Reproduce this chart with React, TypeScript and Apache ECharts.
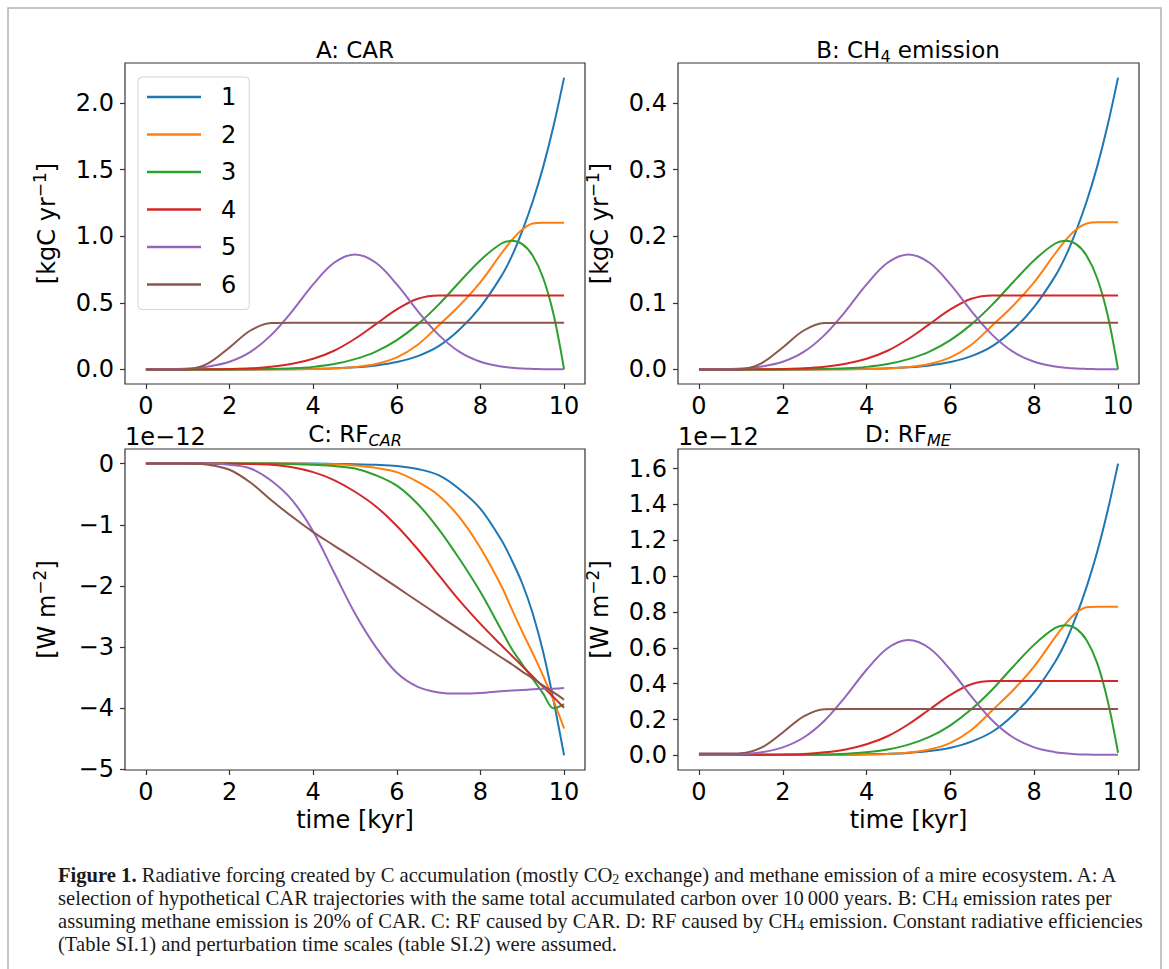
import React, { useEffect, useRef } from "react";
import * as echarts from "echarts";

// ---------------- data ----------------
const TIME = [0, 0.5, 1, 1.5, 2, 2.5, 3, 3.5, 4, 4.5, 5, 5.5, 6, 6.5, 7, 7.5, 8, 8.5, 8.75, 9, 9.25, 9.5, 9.75, 10];
const NAMES = ["1", "2", "3", "4", "5", "6"];

// A: CAR [kgC yr-1]
const CAR_1 = [0, 0, 0, 0, 0, 0, 0.001, 0.002, 0.004, 0.008, 0.016, 0.03, 0.055, 0.1, 0.175, 0.3, 0.47, 0.7, 0.85, 1.04, 1.26, 1.52, 1.83, 2.19];
const CAR_2 = [0, 0, 0, 0, 0, 0, 0, 0.001, 0.003, 0.007, 0.018, 0.04, 0.09, 0.185, 0.33, 0.48, 0.655, 0.87, 0.97, 1.05, 1.095, 1.1, 1.1, 1.1];
const CAR_3 = [0, 0, 0, 0, 0, 0.001, 0.003, 0.008, 0.019, 0.04, 0.077, 0.134, 0.22, 0.338, 0.486, 0.656, 0.82, 0.945, 0.965, 0.94, 0.853, 0.686, 0.41, 0];
const CAR_4 = [0, 0, 0, 0.001, 0.003, 0.008, 0.02, 0.042, 0.08, 0.14, 0.23, 0.34, 0.45, 0.53, 0.555, 0.555, 0.555, 0.555, 0.555, 0.555, 0.555, 0.555, 0.555, 0.555];
const CAR_5 = [0.0005, 0.002, 0.007, 0.022, 0.057, 0.131, 0.259, 0.438, 0.638, 0.8, 0.8625, 0.8, 0.638, 0.438, 0.259, 0.131, 0.057, 0.022, 0.013, 0.007, 0.004, 0.002, 0.001, 0.0005];
const CAR_6 = [0, 0, 0.002, 0.048, 0.165, 0.292, 0.348, 0.35, 0.35, 0.35, 0.35, 0.35, 0.35, 0.35, 0.35, 0.35, 0.35, 0.35, 0.35, 0.35, 0.35, 0.35, 0.35, 0.35];

// B: CH4 emission [kgC yr-1]
const ME_1 = [0, 0, 0, 0, 0, 0, 0.0002, 0.0004, 0.0008, 0.0016, 0.0032, 0.006, 0.011, 0.02, 0.035, 0.06, 0.094, 0.14, 0.17, 0.208, 0.252, 0.304, 0.366, 0.438];
const ME_2 = [0, 0, 0, 0, 0, 0, 0, 0.0002, 0.0006, 0.0014, 0.0036, 0.008, 0.018, 0.037, 0.066, 0.096, 0.131, 0.174, 0.194, 0.21, 0.219, 0.221, 0.221, 0.221];
const ME_3 = [0, 0, 0, 0, 0, 0.0002, 0.0006, 0.0016, 0.0038, 0.008, 0.0154, 0.0268, 0.044, 0.0676, 0.0972, 0.1312, 0.164, 0.189, 0.193, 0.188, 0.1706, 0.1372, 0.082, 0];
const ME_4 = [0, 0, 0, 0.0002, 0.0006, 0.0016, 0.004, 0.0084, 0.016, 0.028, 0.046, 0.068, 0.09, 0.106, 0.111, 0.111, 0.111, 0.111, 0.111, 0.111, 0.111, 0.111, 0.111, 0.111];
const ME_5 = [0.0001, 0.0004, 0.0014, 0.0044, 0.0114, 0.0262, 0.0518, 0.0876, 0.1276, 0.16, 0.1725, 0.16, 0.1276, 0.0876, 0.0518, 0.0262, 0.0114, 0.0044, 0.0026, 0.0014, 0.0008, 0.0004, 0.0002, 0.0001];
const ME_6 = [0, 0, 0.0004, 0.0096, 0.033, 0.0584, 0.0696, 0.07, 0.07, 0.07, 0.07, 0.07, 0.07, 0.07, 0.07, 0.07, 0.07, 0.07, 0.07, 0.07, 0.07, 0.07, 0.07, 0.07];

// C: RF_CAR [1e-12 W m-2]
const RFC_1 = [0, 0, 0, 0, 0, 0, 0, 0, 0, -0.005, -0.01, -0.02, -0.04, -0.09, -0.19, -0.42, -0.74, -1.25, -1.58, -1.96, -2.45, -3.08, -3.88, -4.77];
const RFC_2 = [0, 0, 0, 0, 0, 0, 0, 0, -0.005, -0.01, -0.03, -0.07, -0.14, -0.3, -0.52, -0.88, -1.38, -2.0, -2.38, -2.75, -3.1, -3.47, -3.88, -4.33];
const RFC_3 = [0, 0, 0, 0, 0, 0, 0, -0.005, -0.02, -0.04, -0.08, -0.19, -0.36, -0.66, -1.07, -1.56, -2.1, -2.72, -3.03, -3.28, -3.52, -3.76, -4.0, -3.93];
const RFC_4 = [0, 0, 0, 0, 0, -0.005, -0.02, -0.06, -0.14, -0.27, -0.46, -0.7, -1.02, -1.4, -1.82, -2.24, -2.62, -2.97, -3.14, -3.31, -3.48, -3.65, -3.82, -3.99];
const RFC_5 = [0, 0, 0, 0, -0.02, -0.08, -0.28, -0.6, -1.11, -1.78, -2.45, -3.0, -3.42, -3.65, -3.74, -3.76, -3.75, -3.72, -3.71, -3.7, -3.69, -3.68, -3.68, -3.67];
const RFC_6 = [0, 0, 0, -0.02, -0.1, -0.31, -0.6, -0.87, -1.12, -1.34, -1.56, -1.79, -2.02, -2.25, -2.48, -2.71, -2.94, -3.17, -3.28, -3.4, -3.51, -3.63, -3.74, -3.86];

// D: RF_ME [1e-12 W m-2]
const RFM_1 = [0.003, 0.003, 0.003, 0.003, 0.003, 0.003, 0.004, 0.004, 0.006, 0.009, 0.014, 0.024, 0.043, 0.077, 0.132, 0.226, 0.352, 0.523, 0.634, 0.776, 0.94, 1.133, 1.363, 1.628];
const RFM_2 = [0.003, 0.003, 0.003, 0.003, 0.003, 0.003, 0.003, 0.004, 0.005, 0.008, 0.016, 0.033, 0.07, 0.142, 0.252, 0.365, 0.497, 0.66, 0.735, 0.795, 0.827, 0.83, 0.83, 0.83];
const RFM_3 = [0.003, 0.003, 0.003, 0.003, 0.003, 0.004, 0.005, 0.009, 0.017, 0.033, 0.06, 0.103, 0.168, 0.257, 0.368, 0.496, 0.618, 0.711, 0.726, 0.707, 0.642, 0.516, 0.308, 0.015];
const RFM_4 = [0.003, 0.003, 0.003, 0.004, 0.005, 0.008, 0.017, 0.033, 0.062, 0.107, 0.174, 0.256, 0.338, 0.397, 0.415, 0.415, 0.415, 0.415, 0.415, 0.415, 0.415, 0.415, 0.415, 0.415];
const RFM_5 = [0.003, 0.003, 0.007, 0.018, 0.045, 0.1, 0.195, 0.329, 0.478, 0.598, 0.644, 0.598, 0.478, 0.329, 0.195, 0.1, 0.045, 0.018, 0.012, 0.007, 0.005, 0.004, 0.004, 0.004];
const RFM_6 = [0.01, 0.01, 0.012, 0.045, 0.128, 0.218, 0.258, 0.259, 0.259, 0.259, 0.259, 0.259, 0.259, 0.259, 0.259, 0.259, 0.259, 0.259, 0.259, 0.259, 0.259, 0.259, 0.259, 0.259];

// tick labels
const X_TICKS = [0, 2, 4, 6, 8, 10];
const CAR_TICKS = [0, 0.5, 1, 1.5, 2];
const ME_TICKS = [0, 0.1, 0.2, 0.3, 0.4];
const RFC_TICKS = [0, -1, -2, -3, -4, -5];
const RFM_TICKS = [0, 0.2, 0.4, 0.6, 0.8, 1.0, 1.2, 1.4, 1.6];

// ---------------- styles ----------------
const COLORS = ["#1f77b4", "#ff7f0e", "#2ca02c", "#d62728", "#9467bd", "#8c564b"];
const FONT = "DejaVu Sans";
const SERIF = "Liberation Serif";
const INK = "#000";
const SPINE = "#333";

const dec1 = (v: number) => v.toFixed(1);
const minusInt = (v: number) => (Math.round(v) === 0 ? "0" : "\u2212" + Math.abs(Math.round(v)));

const nameRich = {
  n: { fontFamily: FONT, fontSize: 24, lineHeight: 32, color: INK },
  sup: { fontFamily: FONT, fontSize: 17, lineHeight: 18, verticalAlign: "top", color: INK },
};

const PANELS = [
  {
    grid: { left: 125, top: 63, width: 460, height: 321 },
    series: [CAR_1, CAR_2, CAR_3, CAR_4, CAR_5, CAR_6],
    ticks: CAR_TICKS, min: -0.1095, max: 2.2995, fmt: dec1,
    yName: "{n|[kgC yr}{sup|\u22121}{n|]}", xName: "",
  },
  {
    grid: { left: 678, top: 63, width: 461, height: 321 },
    series: [ME_1, ME_2, ME_3, ME_4, ME_5, ME_6],
    ticks: ME_TICKS, min: -0.0219, max: 0.4599, fmt: dec1,
    yName: "{n|[kgC yr}{sup|\u22121}{n|]}", xName: "",
  },
  {
    grid: { left: 125, top: 449, width: 460, height: 321 },
    series: [RFC_1, RFC_2, RFC_3, RFC_4, RFC_5, RFC_6],
    ticks: RFC_TICKS, min: -5.0085, max: 0.2385, fmt: minusInt,
    yName: "{n|[W m}{sup|\u22122}{n|]}", xName: "time [kyr]",
  },
  {
    grid: { left: 678, top: 449, width: 461, height: 321 },
    series: [RFM_1, RFM_2, RFM_3, RFM_4, RFM_5, RFM_6],
    ticks: RFM_TICKS, min: -0.0814, max: 1.7094, fmt: dec1,
    yName: "{n|[W m}{sup|\u22122}{n|]}", xName: "time [kyr]",
  },
];

const titleRich = {
  n: { fontFamily: FONT, fontSize: 23, lineHeight: 28, fill: INK },
  sub: { fontFamily: FONT, fontSize: 16, lineHeight: 16, verticalAlign: "bottom", fill: INK },
  isub: { fontFamily: FONT, fontSize: 16, lineHeight: 16, verticalAlign: "bottom", fontStyle: "italic", fill: INK },
};

const TITLES = [
  { x: 355, y: 50, text: "{n|A: CAR}" },
  { x: 908, y: 50, text: "{n|B: CH}{sub|4}{n| emission}" },
  { x: 355, y: 434, text: "{n|C: RF}{isub|CAR}" },
  { x: 908, y: 434, text: "{n|D: RF}{isub|ME}" },
];

const CAPTION = [
  "{b|Figure 1.}{r| Radiative forcing created by C accumulation (mostly CO}{s|2}{r| exchange) and methane emission of a mire ecosystem. A: A}",
  "{r|selection of hypothetical CAR trajectories with the same total accumulated carbon over 10\u2009000 years. B: CH}{s|4}{r| emission rates per}",
  "{r|assuming methane emission is 20% of CAR. C: RF caused by CAR. D: RF caused by CH}{s|4}{r| emission. Constant radiative efficiencies}",
  "{r|(Table SI.1) and perturbation time scales (table SI.2) were assumed.}",
];
const CAP_COLOR = "#1a1a1a";
const capRich = {
  r: { fontFamily: SERIF, fontSize: 20.6, lineHeight: 23, fill: CAP_COLOR },
  b: { fontFamily: SERIF, fontSize: 20.6, lineHeight: 23, fontWeight: "bold", fill: CAP_COLOR },
  s: { fontFamily: SERIF, fontSize: 14, lineHeight: 14, verticalAlign: "bottom", fill: CAP_COLOR },
};

function buildOption() {
  const grid = PANELS.map((p) => ({
    ...p.grid,
    show: true,
    borderColor: SPINE,
    borderWidth: 1.2,
    backgroundColor: "transparent",
    containLabel: false,
  }));

  const xAxis = PANELS.map((p, i) => ({
    type: "value",
    gridIndex: i,
    min: -0.5,
    max: 10.5,
    axisLine: { show: false, onZero: false },
    axisTick: { show: true, length: 5, lineStyle: { color: SPINE, width: 1.2 }, customValues: X_TICKS },
    axisLabel: {
      customValues: X_TICKS,
      fontSize: 24,
      fontFamily: FONT,
      color: INK,
      margin: 10,
      formatter: (v: number) => String(v),
    },
    splitLine: { show: false },
    name: p.xName,
    nameLocation: "middle",
    nameGap: 38,
    nameTextStyle: { fontSize: 24, fontFamily: FONT, color: INK },
  }));

  const yAxis = PANELS.map((p, i) => ({
    type: "value",
    gridIndex: i,
    min: p.min,
    max: p.max,
    axisLine: { show: false, onZero: false },
    axisTick: { show: true, length: 5, lineStyle: { color: SPINE, width: 1.2 }, customValues: p.ticks },
    axisLabel: {
      customValues: p.ticks,
      fontSize: 24,
      fontFamily: FONT,
      color: INK,
      margin: 11,
      formatter: p.fmt,
    },
    splitLine: { show: false },
    name: p.yName,
    nameLocation: "middle",
    nameGap: 62,
    nameRotate: 90,
    nameTextStyle: { rich: nameRich, fontSize: 24, fontFamily: FONT, color: INK },
  }));

  const series: any[] = [];
  PANELS.forEach((p, i) => {
    p.series.forEach((arr, k) => {
      series.push({
        type: "line",
        name: NAMES[k],
        xAxisIndex: i,
        yAxisIndex: i,
        data: TIME.map((t, j) => [t, arr[j]]),
        showSymbol: false,
        symbol: "none",
        smooth: 0.35,
        color: COLORS[k],
        itemStyle: { color: COLORS[k] },
        lineStyle: { color: COLORS[k], width: 2 },
        emphasis: { disabled: true },
        silent: true,
        z: 2 + k,
      });
    });
  });

  const graphic: any[] = [
    {
      type: "rect",
      shape: { x: 8, y: 8, width: 1153, height: 980 },
      style: { fill: "none", stroke: "#b3b3b3", lineWidth: 1.5 },
      silent: true,
    },
    ...TITLES.map((t) => ({
      type: "text",
      x: t.x,
      y: t.y,
      style: { text: t.text, rich: titleRich, align: "center", verticalAlign: "middle" },
      silent: true,
    })),
    ...[125, 678].map((x) => ({
      type: "text",
      x,
      y: 437,
      style: {
        text: "1e\u221212",
        fontFamily: FONT,
        fontSize: 24,
        fill: INK,
        align: "left",
        verticalAlign: "middle",
      },
      silent: true,
    })),
    ...CAPTION.map((line, i) => ({
      type: "text",
      x: 58,
      y: 875 + i * 23,
      style: { text: line, rich: capRich, align: "left", verticalAlign: "middle" },
      silent: true,
    })),
  ];

  return {
    animation: false,
    backgroundColor: "#ffffff",
    grid,
    xAxis,
    yAxis,
    series,
    legend: {
      data: NAMES,
      orient: "vertical",
      left: 138,
      top: 77,
      padding: [5, 13, 10, 9],
      itemGap: 7.5,
      itemWidth: 54,
      itemHeight: 2.5,
      icon: "rect",
      selectedMode: false,
      textStyle: { fontSize: 24, fontFamily: FONT, color: INK, lineHeight: 30, padding: [0, 0, 0, 15] },
      borderColor: "#d4d4d4",
      borderWidth: 1,
      borderRadius: 4,
      backgroundColor: "rgba(255,255,255,0.8)",
    },
    graphic,
  };
}

export default function App() {
  const ref = useRef<HTMLDivElement>(null);
  useEffect(() => {
    if (!ref.current) return;
    const chart = echarts.init(ref.current, undefined, { renderer: "svg" });
    chart.setOption(buildOption() as any);
    return () => chart.dispose();
  }, []);
  return (
    <div
      ref={ref}
      style={{ position: "absolute", left: 0, top: 0, width: 1169, height: 969, background: "#fff" }}
    />
  );
}
